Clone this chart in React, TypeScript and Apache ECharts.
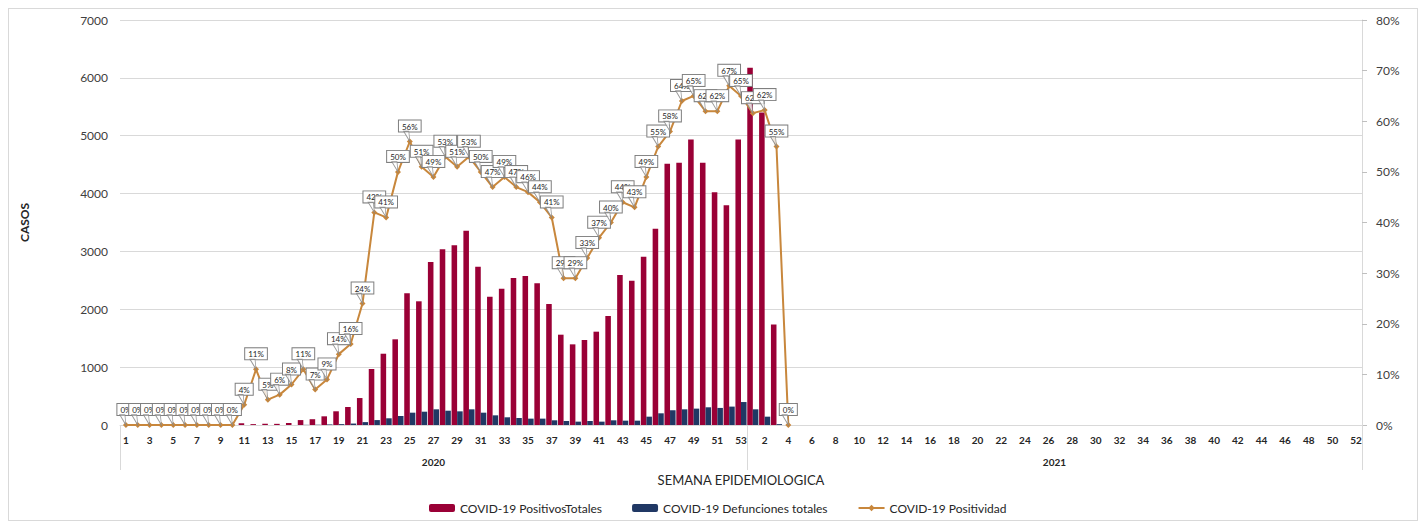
import React, { useEffect, useRef } from "react";
import * as echarts from "echarts";

const weeks2020 = ["1","2","3","4","5","6","7","8","9","10","11","12","13","14","15","16","17","18","19","20","21","22","23","24","25","26","27","28","29","30","31","32","33","34","35","36","37","38","39","40","41","42","43","44","45","46","47","48","49","50","51","52","53"];
const weeks2021 = ["1","2","3","4","5","6","7","8","9","10","11","12","13","14","15","16","17","18","19","20","21","22","23","24","25","26","27","28","29","30","31","32","33","34","35","36","37","38","39","40","41","42","43","44","45","46","47","48","49","50","51","52"];
const yearLabels = ["2020", "2021"];

const positivos2020 = [0,0,0,0,0,0,0,0,0,0,30,15,20,20,35,85,100,150,237,311,466,968,1232,1481,2276,2138,2817,3037,3106,3358,2736,2218,2356,2541,2575,2449,2091,1561,1394,1469,1613,1884,2592,2494,2909,3393,4514,4531,4934,4531,4024,3799,4934];
const positivos2021 = [6173,5400,1737];

const defunciones2020 = [0,0,0,0,0,0,0,0,0,0,0,0,0,0,0,3,5,10,15,25,50,85,116,156,213,230,271,247,236,271,213,167,133,121,110,110,81,69,58,69,58,81,75,75,144,202,255,271,283,306,295,318,397];
const defunciones2021 = [271,144,15];

const positividad2020 = [0,0,0,0,0,0,0,0,0,0,4,11,5,6,8,11,7,9,14,16,24,42,41,50,56,51,49,53,51,53,50,47,49,47,46,44,41,29,29,33,37,40,44,43,49,55,58,64,65,62,62,67,65];
const positividad2021 = [61.6,62.2,55,0];

const SERIES_NAMES = ["COVID-19 PositivosTotales", "COVID-19 Defunciones totales", "COVID-19 Positividad"];
const FONT = "Lato";

export default function App() {
  const ref = useRef<HTMLDivElement>(null);
  useEffect(() => {
    const chart = echarts.init(ref.current!, null, { renderer: "svg" });
    const categories = [...weeks2020, ...weeks2021];
    const total = categories.length;
    const n2020 = weeks2020.length;
    const positivos = [...positivos2020, ...positivos2021];
    const defunciones = [...defunciones2020, ...defunciones2021];
    const positividad = [...positividad2020, ...positividad2021];

    chart.setOption({
      animation: false,
      textStyle: { fontFamily: FONT },
      grid: { left: 111, right: 55, top: 11, bottom: 95, containLabel: false },
      legend: {
        data: SERIES_NAMES,
        left: 415,
        top: 488,
        itemWidth: 26,
        itemHeight: 8,
        itemGap: 30,
        textStyle: { fontSize: 12, color: "#262626", fontFamily: FONT },
      },
      xAxis: [
        {
          type: "category",
          data: categories,
          boundaryGap: true,
          axisLine: { lineStyle: { color: "#d9d9d9" } },
          axisTick: { show: false },
          axisLabel: {
            interval: 1,
            fontSize: 10,
            fontWeight: "bold",
            color: "#262626",
            margin: 10,
            fontFamily: FONT,
          },
          splitLine: { show: false },
        },
        {
          type: "value",
          position: "bottom",
          min: 0,
          max: total,
          name: "SEMANA EPIDEMIOLOGICA",
          nameLocation: "middle",
          nameGap: 48,
          nameTextStyle: { fontSize: 13, color: "#262626", fontFamily: FONT },
          axisLine: { show: false },
          axisTick: {
            show: true,
            customValues: [0, n2020, total],
            length: 45,
            inside: false,
            lineStyle: { color: "#d9d9d9" },
          },
          axisLabel: {
            customValues: [n2020 / 2, n2020 + (total - n2020) / 2],
            formatter: (v: number) => (v < n2020 ? yearLabels[0] : yearLabels[1]),
            fontSize: 10,
            fontWeight: "bold",
            color: "#262626",
            margin: 32,
            fontFamily: FONT,
          },
          splitLine: { show: false },
        },
      ],
      yAxis: [
        {
          type: "value",
          min: 0,
          max: 7000,
          interval: 1000,
          name: "CASOS",
          nameLocation: "middle",
          nameGap: 90,
          nameTextStyle: { fontSize: 12, fontWeight: "bold", color: "#262626", fontFamily: FONT },
          axisLine: { show: false },
          axisTick: { show: false },
          axisLabel: { formatter: (v: number) => String(v), fontSize: 12, color: "#404040", margin: 12, fontFamily: FONT },
          splitLine: { lineStyle: { color: "#d9d9d9" } },
        },
        {
          type: "value",
          min: 0,
          max: 80,
          interval: 10,
          position: "right",
          axisLine: { show: true, lineStyle: { color: "#d9d9d9" } },
          axisTick: { show: true, length: 5, lineStyle: { color: "#bfbfbf" } },
          axisLabel: { formatter: "{value}%", fontSize: 12, color: "#404040", margin: 14, fontFamily: FONT },
          splitLine: { show: false },
        },
      ],
      series: [
        {
          name: SERIES_NAMES[0],
          type: "bar",
          xAxisIndex: 0,
          yAxisIndex: 0,
          data: positivos,
          itemStyle: { color: "#9a0036" },
          barGap: "0%",
          barCategoryGap: "6%",
          z: 2,
        },
        {
          name: SERIES_NAMES[1],
          type: "bar",
          xAxisIndex: 0,
          yAxisIndex: 0,
          data: defunciones,
          itemStyle: { color: "#203864" },
          barGap: "0%",
          barCategoryGap: "6%",
          z: 2,
        },
        {
          name: SERIES_NAMES[2],
          type: "line",
          xAxisIndex: 0,
          yAxisIndex: 1,
          data: positividad,
          connectNulls: false,
          symbol: "diamond",
          symbolSize: 6,
          lineStyle: { color: "#c8873c", width: 2 },
          itemStyle: { color: "#c8873c" },
          z: 4,
          label: {
            show: true,
            position: "top",
            distance: 7,
            formatter: (p: any) => Math.round(p.value) + "%",
            fontSize: 8,
            color: "#262626",
            fontFamily: FONT,
            backgroundColor: "#ffffff",
            borderColor: "#7f7f7f",
            borderWidth: 1,
            padding: [2, 3, 1, 3],
          },
        },
        {
          name: "tail",
          type: "scatter",
          xAxisIndex: 0,
          yAxisIndex: 1,
          data: positividad,
          symbol: "path://M0 0 L5 0 L6 10 Z",
          symbolSize: [6, 10],
          symbolOffset: [-3, -5],
          itemStyle: { color: "#ffffff", borderColor: "#7f7f7f", borderWidth: 1 },
          silent: true,
          z: 5,
        },
      ],
    });
    return () => chart.dispose();
  }, []);
  return (
    <div style={{ width: 1410, height: 513, border: "1px solid #d9d9d9", boxSizing: "border-box" }}>
      <div ref={ref} style={{ width: 1408, height: 511 }} />
    </div>
  );
}
